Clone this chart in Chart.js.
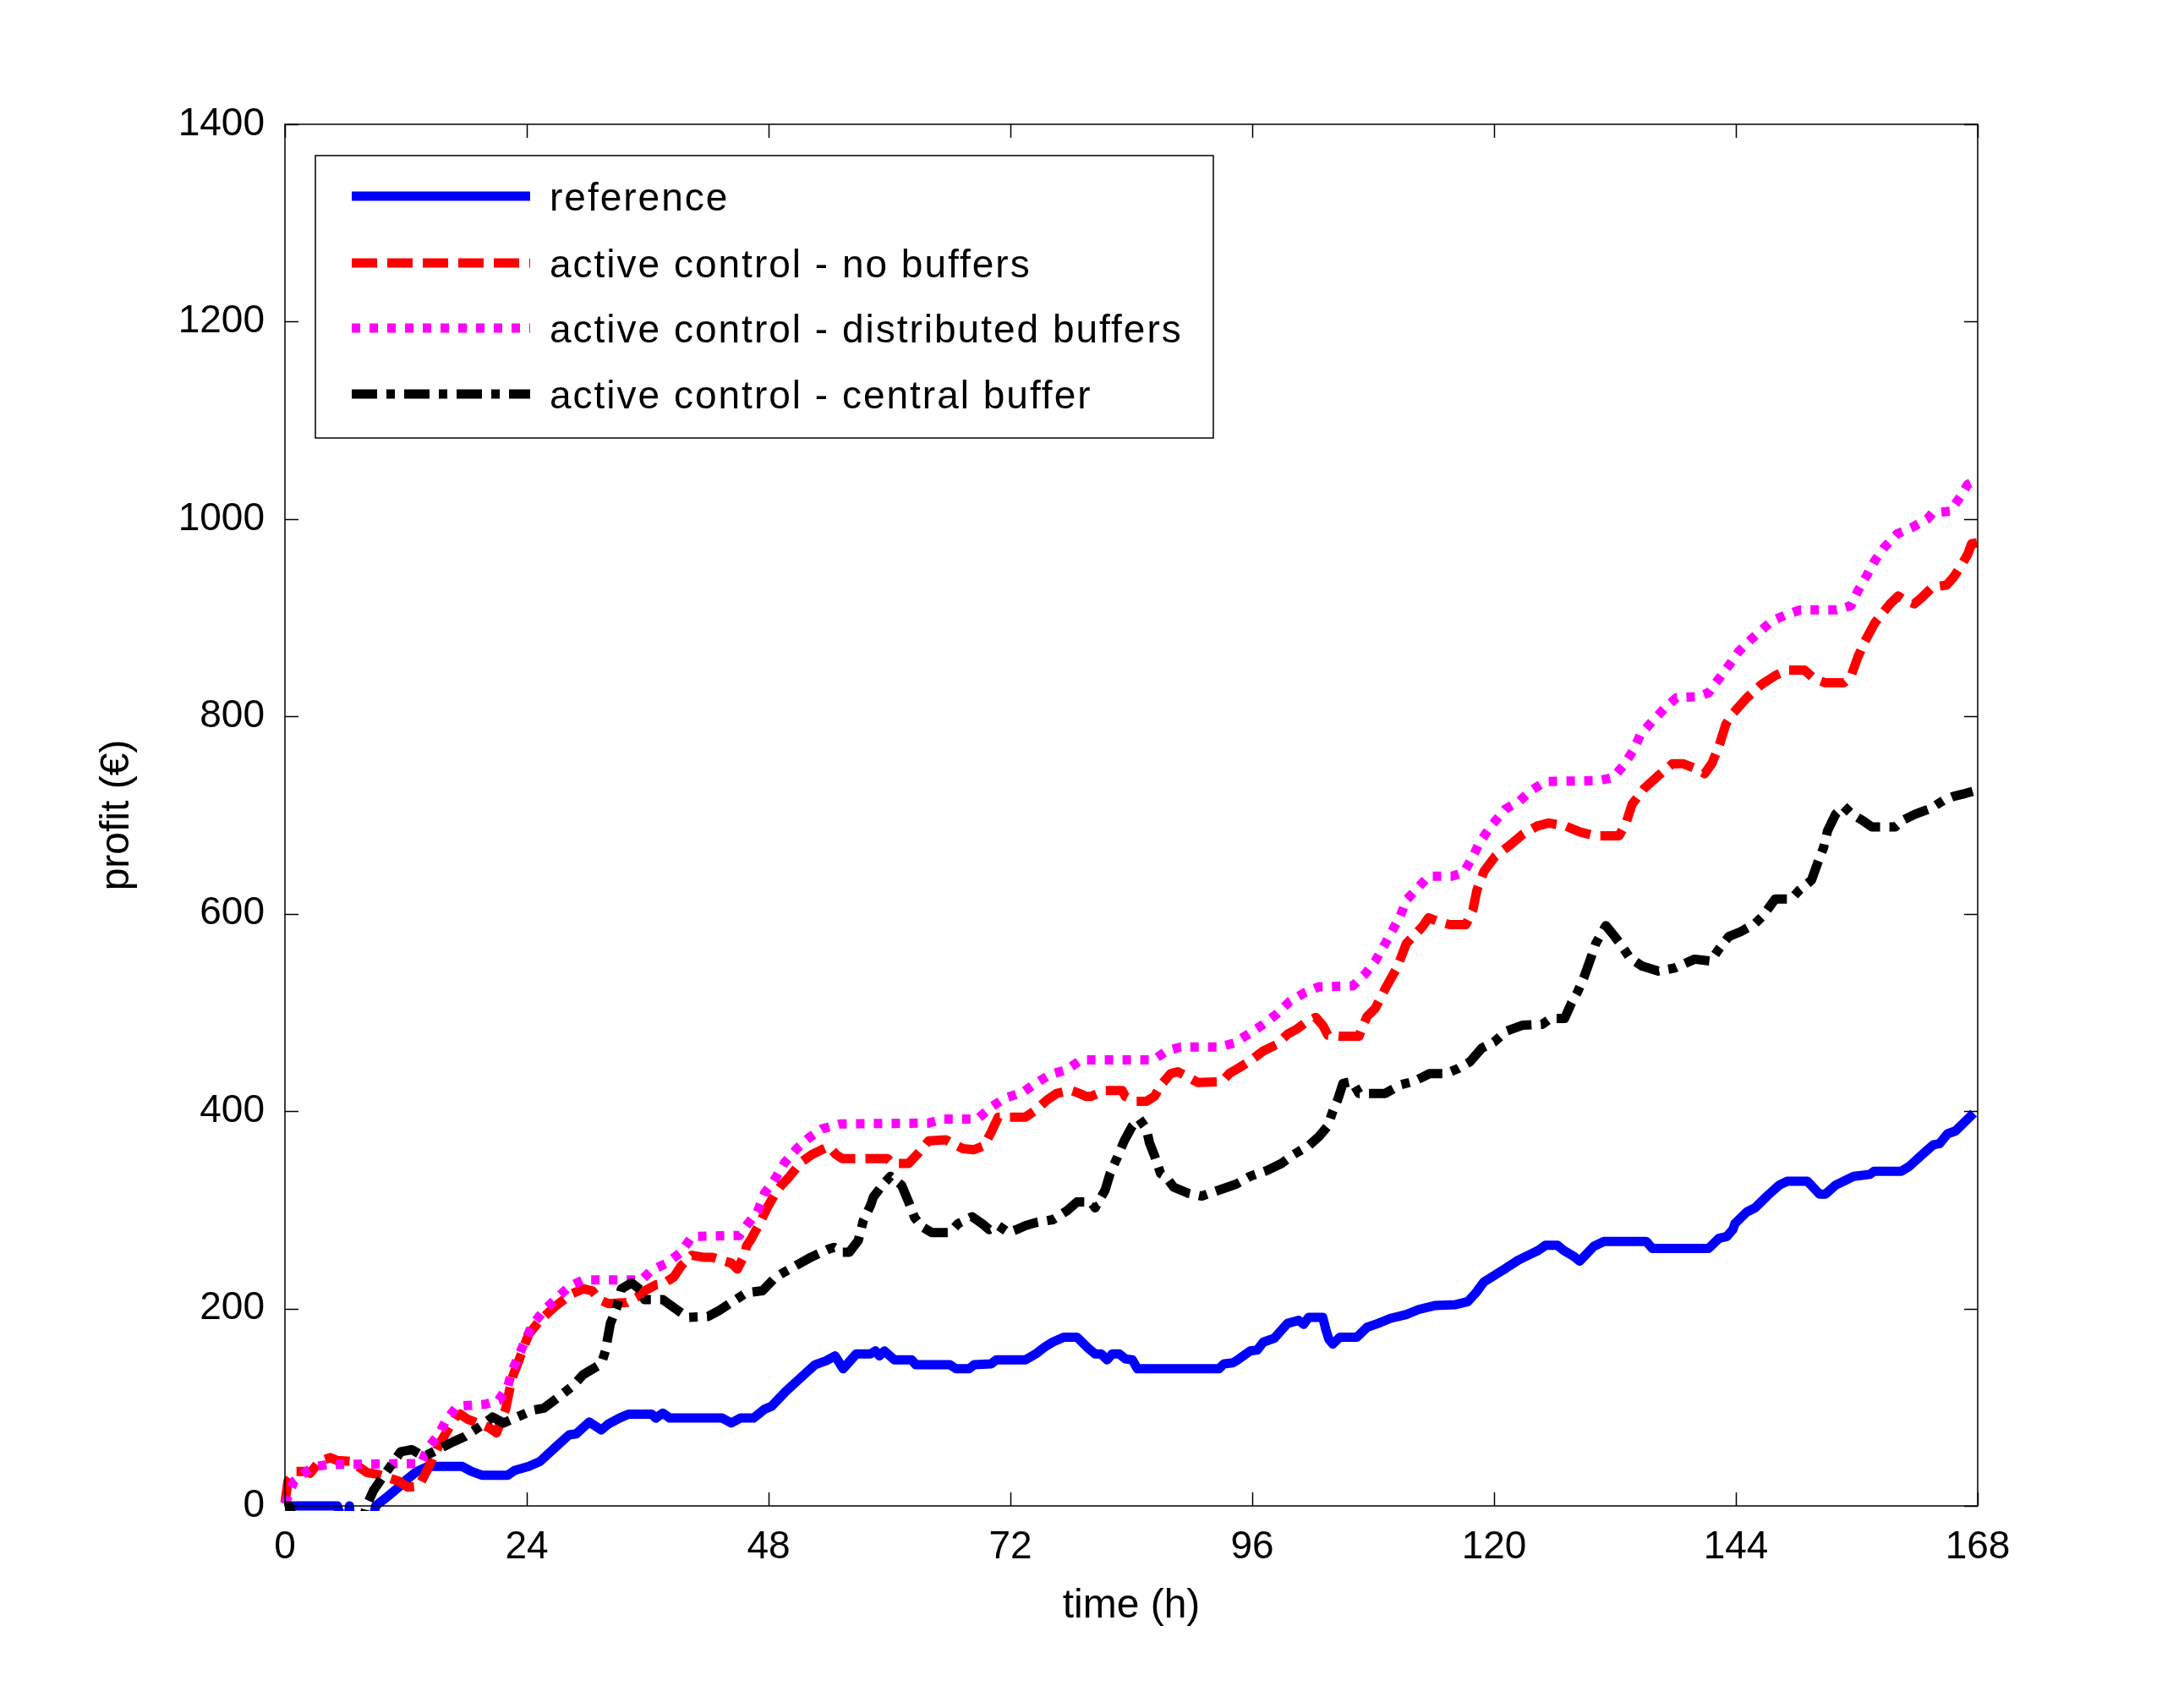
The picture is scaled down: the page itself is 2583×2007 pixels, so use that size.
<!DOCTYPE html>
<html>
<head>
<meta charset="utf-8">
<title>profit over time</title>
<script src="https://cdn.jsdelivr.net/npm/chart.js@4.4.1/dist/chart.umd.min.js"></script>
<style>
  html, body { margin: 0; padding: 0; background: #fff; }
  canvas { display: block; }
</style>
</head>
<body>
<canvas id="chart" width="2583" height="2007" style="width:2583px;height:2007px"></canvas>
<script>
// Values: [hour, profit in euro]
const referenceProfit = [[0,0],[5.2,0],[5.6,-12],[6.3,-12],[6.4,0],[6.5,-12],[8.8,-12],[9,0],[10,8],[11.3,19],[12,26],[13.1,35],[14.2,40],[17.6,40],[18.5,35],[19.6,31],[22.1,31],[22.8,36],[24.2,40],[25.3,45],[26.8,59],[28.2,72],[28.9,73],[30.2,85],[31.4,77],[32.1,83],[33.2,89],[34.1,93],[36.4,93],[36.8,89],[37.5,94],[38.2,89],[43.4,89],[44.3,84],[45.2,89],[46.5,89],[47.6,98],[48.3,101],[49.7,116],[51.2,130],[52.6,143],[53.7,147],[54.6,152],[55.4,139],[56.7,154],[58.1,154],[58.6,157],[59,152],[59.5,157],[60.5,148],[62.2,148],[62.6,143],[66,143],[66.6,139],[67.9,139],[68.4,143],[70.1,144],[70.6,148],[73.5,148],[74.5,154],[75.4,161],[76.2,166],[77.3,171],[78.6,171],[79.7,160],[80.4,154],[81,154],[81.6,148],[82.1,154],[82.8,154],[83.4,149],[84.1,148],[84.6,139],[92.7,139],[93.2,144],[94.1,145],[94.7,149],[95.8,157],[96.5,158],[97.1,166],[98.2,170],[99.5,185],[100.6,188],[101.1,184],[101.6,191],[103,191],[103.3,179],[103.6,169],[104,164],[104.7,171],[106.4,171],[107.4,181],[108.5,185],[109.7,190],[111.3,194],[112.5,199],[114.1,203],[116.2,204],[117.4,207],[118.2,216],[119,227],[120.4,236],[121.2,241],[122.4,249],[123.6,255],[124.4,259],[125.1,264],[126.3,264],[126.9,259],[127.9,253],[128.5,248],[129.9,263],[130.9,268],[135.1,268],[135.7,261],[141.3,261],[142.3,271],[143.1,273],[143.7,280],[143.9,286],[145.1,298],[145.9,302],[147.1,314],[148.3,325],[149.1,329],[151.1,329],[152.3,316],[152.9,316],[153.9,325],[154.7,329],[155.7,334],[157.3,336],[157.7,339],[160.4,339],[161.2,344],[162.6,357],[163.6,366],[164.2,367],[165,377],[165.8,380],[167.4,396],[167.6,398]];

const noBuffersProfit = [[0,3],[0.3,25],[1,35],[2.2,35],[2.5,33],[3.4,45],[4.5,49],[5.2,46],[6.6,45],[8.1,34],[9.2,32],[11.3,25],[12.2,19],[13.3,20],[14.2,38],[15.3,62],[16.9,90],[17.4,93],[18.1,88],[19.4,83],[20.3,79],[21,74],[21.9,98],[22.3,118],[22.6,131],[23.2,147],[23.7,161],[24.2,174],[25.3,188],[26.8,202],[27.8,210],[28.5,215],[29.6,220],[30.5,218],[31.2,209],[32.1,205],[33.9,206],[35,212],[35.7,218],[36.8,224],[37.5,225],[38.6,232],[39.3,243],[40.4,254],[41.5,252],[42.4,252],[43.3,249],[44.3,246],[44.9,240],[45.6,254],[45.8,263],[46.3,271],[47.2,288],[47.9,303],[48.7,317],[49.2,324],[50.1,334],[51.2,348],[52.3,356],[53.3,361],[54,364],[54.7,356],[55.3,352],[59.8,352],[60.3,347],[61.9,347],[62.9,358],[63.9,370],[65.6,371],[66.3,367],[67.3,362],[68.4,361],[69.4,365],[70.1,379],[70.8,394],[73.5,394],[74.5,401],[75.6,411],[76.6,418],[78,421],[78.6,419],[79.5,415],[80,415],[81.4,421],[83.1,421],[83.4,415],[84.5,410],[85.5,410],[86.3,415],[86.9,426],[87.9,438],[88.6,440],[89.9,433],[90.6,429],[93,430],[93.7,438],[94.7,444],[95.8,451],[97.1,461],[98.5,468],[99.5,478],[100.4,483],[101.3,490],[102.3,495],[103,487],[103.5,477],[104.7,476],[106.6,476],[106.9,484],[107.4,496],[108.2,504],[109.3,526],[110.4,546],[111.3,570],[112.9,587],[113.5,596],[114.5,592],[115.6,589],[117.2,589],[117.9,604],[118.3,624],[119,643],[120.1,658],[121.5,669],[122.9,681],[124.3,689],[125.4,692],[127.1,689],[128.5,683],[130,679],[132.4,679],[133.1,692],[133.7,711],[134.9,727],[136.3,740],[137.7,752],[138.8,752],[139.8,748],[140.9,742],[141.6,752],[142.3,769],[143,792],[143.7,803],[145.1,819],[146.5,832],[148,842],[149.2,847],[150.8,847],[151.8,838],[152.9,834],[154.7,834],[155.4,840],[156.1,860],[156.8,876],[157.8,895],[159.3,914],[160.1,922],[160.7,918],[161.7,914],[162.4,920],[163.5,931],[164.9,933],[165.6,941],[166.3,952],[167,964],[167.4,975],[168,976]];

const distributedProfit = [[0,2],[0.9,25],[2.3,36],[3,40],[4.5,42],[13.5,43],[14.2,59],[15.3,73],[16,87],[17.1,101],[19.9,103],[21.2,107],[22.1,121],[22.6,138],[23.2,152],[23.9,169],[24.6,184],[25.7,198],[26.9,210],[28.2,222],[29.6,229],[35.4,229],[36.4,239],[37.9,246],[39.3,257],[40.4,273],[45.1,274],[45.8,284],[46.9,298],[47.6,317],[48.5,329],[49.6,348],[50.8,362],[52,373],[53.3,382],[55.1,387],[63.9,388],[65.3,392],[68.7,392],[70.1,404],[71.4,413],[73.2,419],[74.5,428],[75.9,437],[77.6,442],[79,452],[86.2,452],[87.5,461],[88.9,465],[92.7,465],[94.2,469],[95.6,478],[97.1,488],[98.5,499],[99.7,511],[101.2,520],[102.6,526],[106,527],[107.2,539],[108.2,552],[109.1,568],[109.9,583],[110.7,598],[111.3,614],[112.5,627],[113.5,638],[115.8,638],[117,642],[117.9,658],[118.6,673],[119.8,690],[121.1,706],[122.5,714],[123.7,725],[125.1,734],[130.4,735],[131.8,738],[132.9,751],[133.9,767],[134.5,781],[135.7,795],[136.9,808],[138.1,819],[140.2,820],[141.3,824],[142.3,838],[143.4,853],[144.3,866],[145.5,878],[146.5,887],[147.6,897],[149,903],[150.4,908],[154,908],[155.4,912],[156.1,927],[157,943],[157.8,958],[158.7,971],[160,985],[161.4,991],[163,1000],[163.5,1006],[165.3,1008],[166.3,1023],[167,1035],[167.6,1038],[168,1042]];

const centralProfit = [[0,0],[0.4,0],[0.8,-12],[7.8,-12],[8.1,0],[8.8,16],[9.9,32],[11.5,55],[12.6,57],[13.8,50],[16.7,65],[17.8,70],[19.6,82],[20.6,90],[21.7,84],[24.6,97],[25.7,99],[27.5,113],[28.5,121],[29.6,133],[31.4,144],[31.8,157],[32.3,185],[32.9,200],[33.4,220],[34.4,226],[35.4,218],[35.7,209],[37.5,209],[39,198],[40,191],[42,192],[43.1,198],[45.8,216],[47.4,218],[48.7,232],[52.2,252],[53.9,260],[54.5,262],[55.3,257],[56,257],[56.9,269],[57.4,289],[58.1,304],[58.4,313],[59.3,325],[60.1,334],[61.2,325],[61.9,308],[62.5,292],[63.2,283],[64.2,277],[66,277],[66.8,286],[68.2,293],[69.2,286],[69.9,280],[70.8,284],[71.8,277],[72.6,280],[73.5,284],[74.5,287],[76.2,290],[77.6,299],[78.6,308],[80,308],[80.4,302],[81.4,320],[81.9,337],[82.6,353],[83.3,370],[84.1,385],[84.8,392],[85.5,382],[85.8,368],[86.3,355],[86.9,337],[87.4,334],[88.2,323],[89.6,317],[91,314],[92.7,320],[94.4,326],[95.8,334],[97.5,340],[98.9,347],[100.1,356],[101.6,365],[102.6,374],[103.5,385],[104,400],[104.5,412],[105,428],[105.9,430],[106.6,418],[109.2,418],[110.8,427],[112,430],[113.6,438],[115.2,438],[116.4,443],[117.6,450],[118.8,464],[120,470],[121.2,481],[122.8,487],[124.8,488],[125.6,494],[127,494],[127.7,510],[128.3,521],[128.9,535],[129.5,552],[130.1,570],[131.1,588],[131.9,578],[132.5,570],[133.5,555],[134.7,547],[136.3,542],[137.9,545],[139.9,554],[141.5,552],[142.3,564],[143.3,577],[144.5,582],[145.9,590],[146.7,598],[147.9,615],[149.5,615],[150.3,624],[151.5,634],[152.1,651],[152.7,667],[153.1,684],[153.9,701],[154.7,709],[155.5,701],[156.5,695],[157.5,688],[159.8,688],[160.6,695],[161.8,701],[163.4,707],[164.6,715],[165.6,719],[166.8,722],[167.5,724]];

const xTicks = [0, 24, 48, 72, 96, 120, 144, 168];
const yTicks = [0, 200, 400, 600, 800, 1000, 1200, 1400];
const seriesLabels = ['reference', 'active control - no buffers', 'active control - distributed buffers', 'active control - central buffer'];

const FONT = 'Liberation Sans, Arial, sans-serif';
const toXY = (rows) => rows.map(([x, y]) => ({ x, y }));

const styles = [
  { color: '#0000ff', dash: [] },
  { color: '#ff0000', dash: [30, 12] },
  { color: '#ff00ff', dash: [10, 11] },
  { color: '#000000', dash: [30, 11, 10, 11] },
];
const seriesData = [referenceProfit, noBuffersProfit, distributedProfit, centralProfit];

// MATLAB-style box with inward ticks on all four sides
const boxPlugin = {
  id: 'box',
  afterDatasetsDraw(chart) {
    const { ctx, chartArea: a, scales } = chart;
    const len = 16;
    ctx.save();
    ctx.strokeStyle = '#000';
    ctx.lineWidth = 1.5;
    ctx.strokeRect(a.left, a.top, a.right - a.left, a.bottom - a.top);
    ctx.beginPath();
    xTicks.forEach((t) => {
      const px = Math.round(scales.x.getPixelForValue(t)) + 0.5;
      ctx.moveTo(px, a.bottom); ctx.lineTo(px, a.bottom - len);
      ctx.moveTo(px, a.top); ctx.lineTo(px, a.top + len);
    });
    yTicks.forEach((t) => {
      const py = Math.round(scales.y.getPixelForValue(t)) + 0.5;
      ctx.moveTo(a.left, py); ctx.lineTo(a.left + len, py);
      ctx.moveTo(a.right, py); ctx.lineTo(a.right - len, py);
    });
    ctx.stroke();
    ctx.restore();
  },
};

// boxed legend in the upper-left corner
const legendPlugin = {
  id: 'boxLegend',
  afterDraw(chart) {
    const { ctx } = chart;
    const box = { x: 373, y: 184, w: 1062, h: 334 };
    const rows = [232, 311, 388, 466];
    ctx.save();
    ctx.fillStyle = '#fff';
    ctx.fillRect(box.x, box.y, box.w, box.h);
    ctx.strokeStyle = '#000';
    ctx.lineWidth = 1.5;
    ctx.strokeRect(box.x, box.y, box.w, box.h);
    seriesLabels.forEach((label, i) => {
      const y = rows[i];
      ctx.beginPath();
      ctx.setLineDash(styles[i].dash);
      ctx.lineCap = 'butt';
      ctx.lineWidth = 11;
      ctx.strokeStyle = styles[i].color;
      ctx.moveTo(416, y);
      ctx.lineTo(627, y);
      ctx.stroke();
      ctx.setLineDash([]);
      ctx.fillStyle = '#000';
      ctx.font = '46px ' + FONT;
      ctx.letterSpacing = '2px';
      ctx.textBaseline = 'alphabetic';
      ctx.textAlign = 'left';
      ctx.fillText(label, 650, y + 17);
    });
    ctx.restore();
  },
};

new Chart(document.getElementById('chart').getContext('2d'), {
  type: 'line',
  data: {
    datasets: seriesData.map((rows, i) => ({
      label: seriesLabels[i],
      data: toXY(rows),
      borderColor: styles[i].color,
      backgroundColor: styles[i].color,
      borderDash: styles[i].dash,
      borderWidth: 11,
      borderCapStyle: 'butt',
      borderJoinStyle: 'round',
      pointRadius: 0,
      tension: 0,
      fill: false,
      clip: 6,
      order: 3 - i, // later series drawn on top, as in the original
    })),
  },
  options: {
    responsive: false,
    animation: false,
    events: [],
    layout: { padding: { left: 0, top: 147, right: 244, bottom: 76 } },
    plugins: { legend: { display: false }, tooltip: { enabled: false } },
    scales: {
      x: {
        type: 'linear',
        min: 0,
        max: 168,
        afterBuildTicks: (s) => { s.ticks = xTicks.map((v) => ({ value: v })); },
        afterFit: (s) => { s.height = 150; },
        grid: { display: false, drawTicks: false },
        border: { display: false },
        ticks: { padding: 22, color: '#000', font: { family: FONT, size: 46 }, maxRotation: 0, callback: (v) => String(v) },
        title: { display: true, text: 'time (h)', color: '#000', font: { family: FONT, size: 48 }, padding: { top: 0, bottom: 2 } },
      },
      y: {
        min: 0,
        max: 1400,
        afterBuildTicks: (s) => { s.ticks = yTicks.map((v) => ({ value: v })); },
        afterFit: (s) => { s.width = 337; },
        grid: { display: false, drawTicks: false },
        border: { display: false },
        ticks: { padding: 24, color: '#000', font: { family: FONT, size: 46 }, callback: (v) => String(v) },
        title: { display: true, text: 'profit (€)', color: '#000', font: { family: FONT, size: 48 }, padding: { top: 110, bottom: 0 } },
      },
    },
  },
  plugins: [boxPlugin, legendPlugin],
});
</script>
</body>
</html>
